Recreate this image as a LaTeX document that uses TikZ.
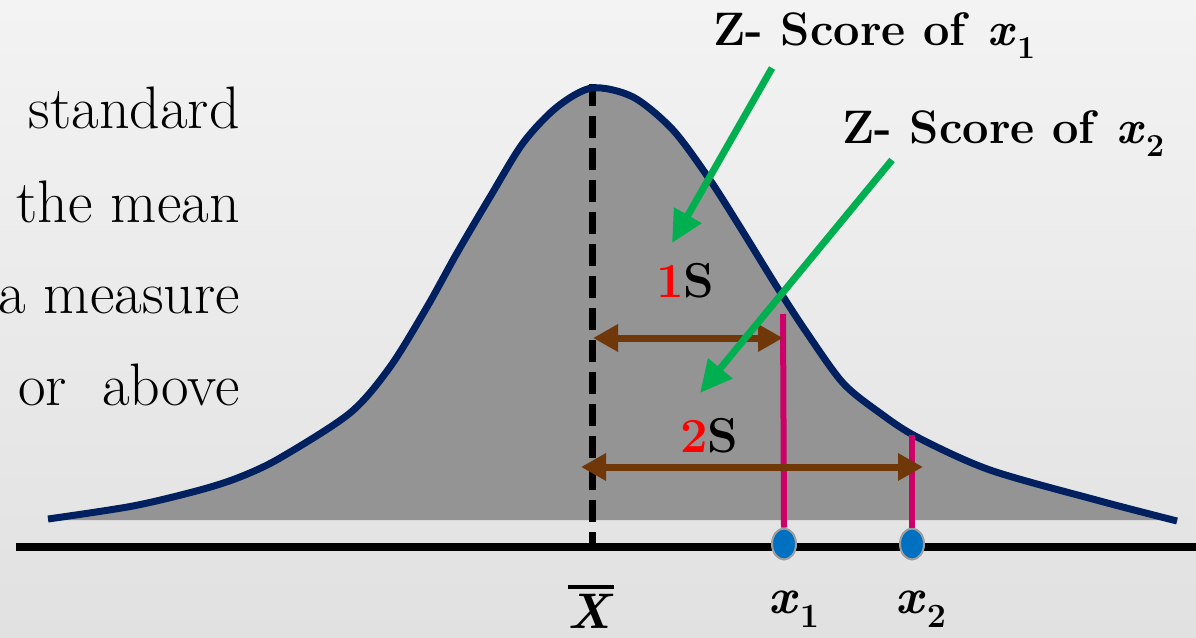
\documentclass[tikz,border=0pt]{standalone}
\usetikzlibrary{arrows.meta,shapes.geometric}
\definecolor{bgtop}{RGB}{243,243,243}
\definecolor{bgbot}{RGB}{225,225,225}
\definecolor{curvefill}{RGB}{148,148,148}
\definecolor{navycurve}{RGB}{0,32,96}
\definecolor{pinkline}{RGB}{204,0,102}
\definecolor{brownarr}{RGB}{112,56,8}
\definecolor{greenarr}{RGB}{0,176,80}
\definecolor{dotblue}{RGB}{0,112,192}
\newcommand{\xsubvar}[2]{\textbf{\textit{x}}\kern0.03em\raisebox{-0.28em}{\fontsize{#2}{#2}\selectfont\bfseries #1}}
\begin{document}
\begin{tikzpicture}[x=1pt,y=-1pt,
  sidetext/.style={anchor=base east,inner sep=0pt,font=\fontsize{60}{68}\selectfont},
  zlabel/.style={anchor=base west,inner sep=0pt,font=\fontsize{47}{54}\selectfont\bfseries},
  slabel/.style={anchor=base west,inner sep=0pt,font=\fontsize{49}{56}\selectfont\bfseries},
  axlabel/.style={inner sep=0pt,font=\fontsize{50}{58}\selectfont\bfseries},
  pinkmark/.style={draw=pinkline,line width=6pt},
  brownarrow/.style={draw=brownarr,line width=7pt,{Triangle[length=25pt,width=26pt]}-{Triangle[length=25pt,width=26pt]}},
  greenarrow/.style={draw=greenarr,line width=7pt,-{Triangle[length=32pt,width=30pt]}},
  xdot/.style={ellipse,draw=black!38,line width=2pt,fill=dotblue,minimum width=24pt,minimum height=31pt,inner sep=0pt}]
\useasboundingbox (0,0) rectangle (1196,637);
\shade[top color=bgtop,bottom color=bgbot] (0,0) rectangle (1196,637);
\clip (0,0) rectangle (1196,637);
% fill under the curve
\fill[curvefill] plot[smooth] coordinates {(48,519) (133,506) (200,490) (240,477) (280,458) (350,413) (390,367) (427,307) (457,253) (490,197) (523,143) (557,107) (592,88) (633,97) (673,130) (710,180) (740,227) (777,287) (807,333) (843,383) (880,413) (917,437) (990,470) (1100,501) (1177,521)} -- (1177,520) -- (48,520) -- cycle;
% axis
\coordinate (axl) at (16,547);
\coordinate (axr) at (1196,547);
\draw[black,line width=8pt] (axl) -- (axr);
% mean dashed line
\coordinate (peak) at (592,84);
\coordinate (mbase) at (592,547);
\draw[black,line width=7pt,dash pattern=on 22pt off 10pt] (peak) -- (mbase);
% curve outline
\draw[navycurve,line width=7pt,line cap=butt] plot[smooth] coordinates {(48,519) (133,506) (200,490) (240,477) (280,458) (350,413) (390,367) (427,307) (457,253) (490,197) (523,143) (557,107) (592,88) (633,97) (673,130) (710,180) (740,227) (777,287) (807,333) (843,383) (880,413) (917,437) (990,470) (1100,501) (1177,521)};
% pink marks and dots
\coordinate (p1top) at (783,314);
\coordinate (p2top) at (912,435);
\node[xdot] (d1) at (784,544) {};
\node[xdot] (d2) at (912,544) {};
\draw[pinkmark] (p1top) -- (d1.north);
\draw[pinkmark] (p2top) -- (d2.north);
% brown arrows
\coordinate (a1l) at (593,338);
\coordinate (a1r) at (783,338);
\coordinate (a2l) at (581,467);
\coordinate (a2r) at (923,467);
\draw[brownarrow] (a1l) -- (a1r);
\draw[brownarrow] (a2l) -- (a2r);
% labels 1S 2S
\node[slabel] (s1) at (656,297) {\textcolor{red}{1}S};
\node[slabel] (s2) at (680,452) {\textcolor{red}{2}S};
% Z-score labels and green arrows
\node[zlabel] (z1) at (713,45) {Z- Score of \xsubvar{1}{32}};
\node[zlabel] (z2) at (842,143) {Z- Score of \xsubvar{2}{32}};
\coordinate (g1s) at (772,68);
\coordinate (g1e) at (672,243);
\coordinate (g2s) at (892,160);
\coordinate (g2e) at (700,393);
\draw[greenarrow] (g1s) -- (g1e);
\draw[greenarrow] (g2s) -- (g2e);
% axis labels
\node[axlabel,anchor=base] (xbar) at (591,628) {\vbox{\hrule height 3.5pt\kern 5pt\hbox{\textit{X}}}};
\node[axlabel,anchor=base west] (x1) at (768,613) {\xsubvar{1}{34}};
\node[axlabel,anchor=base west] (x2) at (895,613) {\xsubvar{2}{34}};
% left text (cut off at the left edge, as in the reference)
\node[sidetext] (t1) at (240,128) {standard};
\node[sidetext] (t2) at (240,222) {the mean};
\node[sidetext] (t3) at (240,313) {a measure};
\node[sidetext] (t4) at (240,405) {or\hspace{17pt} above};
\end{tikzpicture}
\end{document}
